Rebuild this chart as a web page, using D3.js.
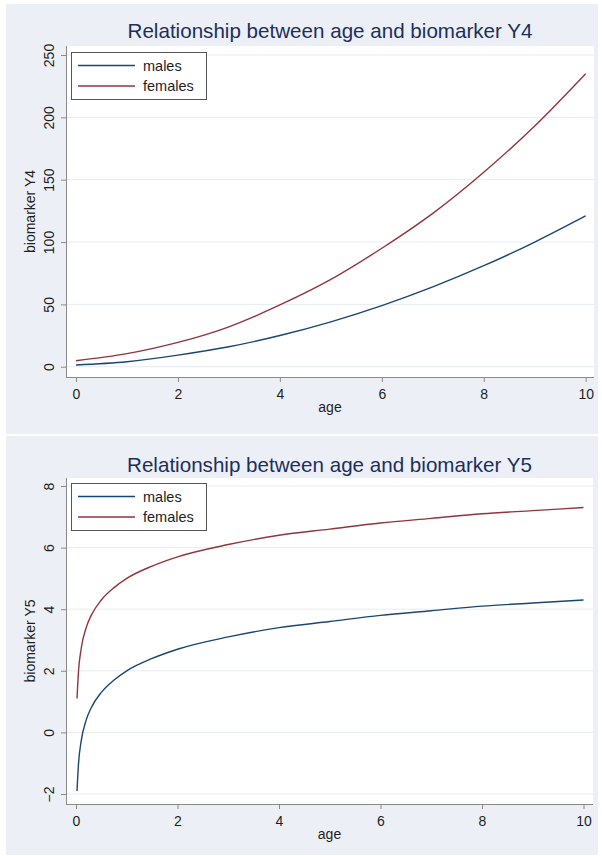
<!DOCTYPE html>
<html>
<head>
<meta charset="utf-8">
<script src="https://cdnjs.cloudflare.com/ajax/libs/d3/7.8.5/d3.min.js"></script>
<style>
  body { margin: 0; background: #fff; }
  svg text { font-family: "Liberation Sans", Arial, sans-serif; }
</style>
</head>
<body>
<svg width="602" height="856"></svg>
<script>
// ---- data ----
var seriesNames = ['males', 'females']
var colors = ['#1a476f', '#90353b']

// top panel: biomarker Y4
var ageY4 = [0, 1, 2, 3, 4, 5, 6, 7, 8, 9, 10]
var malesY4 = [1.4, 4, 9.3, 16, 25, 36, 49, 64, 81, 100, 121]
var femalesY4 = [4.8, 10.5, 19.5, 32, 49.5, 70, 95, 123, 156, 193, 235]
var yTicksY4 = [0, 50, 100, 150, 200, 250]

// bottom panel: biomarker Y5
var ageY5 = [0.02, 0.05, 0.1, 0.2, 0.3, 0.5, 0.75, 1, 1.5, 2, 3, 4, 5, 6, 7, 8, 9, 10]
var malesY5 = [-1.9, -1.0, -0.3, 0.4, 0.8, 1.3, 1.7, 2.0, 2.4, 2.7, 3.1, 3.4, 3.6, 3.8, 3.95, 4.1, 4.2, 4.3]
var femalesY5 = [1.1, 2.0, 2.7, 3.4, 3.8, 4.3, 4.7, 5.0, 5.4, 5.7, 6.1, 6.4, 6.6, 6.8, 6.95, 7.1, 7.2, 7.3]
var yTicksY5 = [-2, 0, 2, 4, 6, 8]

var xTicks = [0, 2, 4, 6, 8, 10]

var svg = d3.select('svg')

function drawPanel(p) {
    var g = svg.append('g')

    // graph region
    g.append('rect')
        .attr('x', p.box[0]).attr('y', p.box[1])
        .attr('width', p.box[2]).attr('height', p.box[3])
        .attr('fill', '#ecf0f6')

    // plot region
    g.append('rect')
        .attr('x', p.plot[0]).attr('y', p.plot[1])
        .attr('width', p.plot[2] - p.plot[0]).attr('height', p.plot[3] - p.plot[1])
        .attr('fill', '#fff')

    var x = d3.scaleLinear().domain([0, 10]).range(p.xRange)
    var y = d3.scaleLinear().domain(p.yDomain).range(p.yRange)

    // gridlines
    g.selectAll('line.grid')
        .data(p.yTicks)
        .enter()
        .append('line')
        .attr('x1', p.plot[0]).attr('x2', p.plot[2])
        .attr('y1', function(d){ return y(d) })
        .attr('y2', function(d){ return y(d) })
        .style('stroke', '#e6ebf3')
        .style('stroke-width', 1)

    // y axis
    var yAxis = g.append('g')
        .attr('transform', 'translate(' + p.plot[0] + ',0)')
        .call(d3.axisLeft(y).tickValues(p.yTicks).tickSize(5).tickPadding(7))
    yAxis.select('.domain').attr('d', 'M0.5,' + p.plot[1] + 'V' + p.plot[3]).style('stroke', '#8a8a8a')
    yAxis.selectAll('.tick line').style('stroke', '#8a8a8a')
    yAxis.selectAll('.tick text')
        .attr('x', null).attr('dy', null)
        .attr('text-anchor', 'middle')
        .attr('transform', 'translate(-12,0) rotate(-90)')
        .style('font-size', '14px')
        .style('fill', '#1e1e1e')
        .style('font-family', '"Liberation Sans", Arial, sans-serif')

    // x axis
    var xAxis = g.append('g')
        .attr('transform', 'translate(0,' + p.plot[3] + ')')
        .call(d3.axisBottom(x).tickValues(xTicks).tickSize(5).tickPadding(7))
    xAxis.select('.domain').attr('d', 'M' + p.plot[0] + ',0.5H' + p.plot[2]).style('stroke', '#8a8a8a')
    xAxis.selectAll('.tick line').style('stroke', '#8a8a8a')
    xAxis.selectAll('.tick text')
        .attr('dy', '0.71em')
        .style('font-size', '14px')
        .style('fill', '#1e1e1e')
        .style('font-family', '"Liberation Sans", Arial, sans-serif')

    // series lines
    var line = d3.line()
        .x(function(d){ return x(d[0]) })
        .y(function(d){ return y(d[1]) })
        .curve(p.curve)

    p.series.forEach(function(s, i){
        g.append('path')
            .datum(p.age.map(function(a, j){ return [a, s[j]] }))
            .attr('d', line)
            .attr('fill', 'none')
            .style('stroke', colors[i])
            .style('stroke-width', 1.4)
    })

    // titles
    g.append('text')
        .attr('x', (p.plot[0] + p.plot[2]) / 2)
        .attr('y', p.titleY)
        .attr('text-anchor', 'middle')
        .style('font-size', '20.6px')
        .style('fill', '#1c2f5c')
        .text(p.title)

    g.append('text')
        .attr('x', (p.plot[0] + p.plot[2]) / 2)
        .attr('y', p.xTitleY)
        .attr('text-anchor', 'middle')
        .style('font-size', '14px')
        .style('fill', '#1e1e1e')
        .text('age')

    g.append('text')
        .attr('transform', 'translate(35,' + (p.plot[1] + p.plot[3]) / 2 + ') rotate(-90)')
        .attr('text-anchor', 'middle')
        .style('font-size', '14px')
        .style('fill', '#1e1e1e')
        .text(p.yTitle)

    // legend
    var lg = g.append('g').attr('transform', 'translate(71,' + p.legendY + ')')
    lg.append('rect')
        .attr('x', 0.5).attr('y', 0.5)
        .attr('width', 135).attr('height', 47)
        .attr('fill', '#fff')
        .style('stroke', '#555')
    seriesNames.forEach(function(name, i){
        var ly = 13.5 + i * 20.5
        lg.append('line')
            .attr('x1', 7).attr('x2', 64)
            .attr('y1', ly).attr('y2', ly)
            .style('stroke', colors[i])
            .style('stroke-width', 1.4)
        lg.append('text')
            .attr('x', 72).attr('y', ly + 5)
            .style('font-size', '14.5px')
            .style('fill', '#1e1e1e')
            .text(name)
    })
}

drawPanel({
    box: [6, 4, 592, 430],
    plot: [66, 46, 594, 377],
    xRange: [76, 585.7],
    yDomain: [0, 250],
    yRange: [366.7, 55],
    yTicks: yTicksY4,
    age: ageY4,
    series: [malesY4, femalesY4],
    curve: d3.curveNatural,
    title: 'Relationship between age and biomarker Y4',
    titleY: 38,
    xTitleY: 412,
    yTitle: 'biomarker Y4',
    legendY: 52
})

drawPanel({
    box: [6, 436, 592, 419],
    plot: [66, 478, 593, 804],
    xRange: [76, 583.5],
    yDomain: [-2, 8],
    yRange: [794, 486],
    yTicks: yTicksY5,
    age: ageY5,
    series: [malesY5, femalesY5],
    curve: d3.curveMonotoneX,
    title: 'Relationship between age and biomarker Y5',
    titleY: 472,
    xTitleY: 839,
    yTitle: 'biomarker Y5',
    legendY: 483
})
</script>
</body>
</html>
